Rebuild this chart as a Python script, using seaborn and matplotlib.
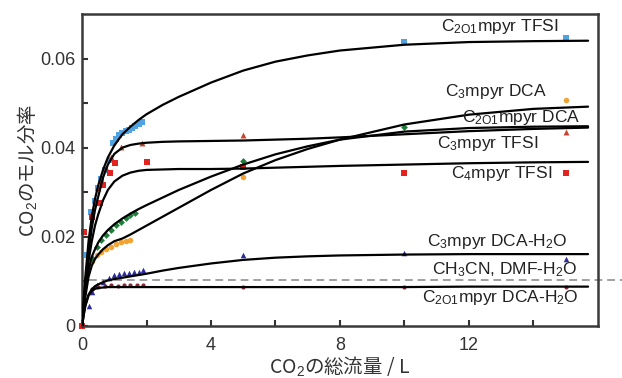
import pandas as pd
import matplotlib.pyplot as plt
import seaborn as sns

# fitted curves at these CO2 flow volumes (L)
curve_x = [0, 0.05, 0.1, 0.2, 0.3, 0.4, 0.5, 0.65, 0.8, 1.0, 1.25, 1.5, 1.75,
           2, 2.5, 3, 4, 5, 6, 7, 8, 10, 12, 14, 15.7]
c2o1_tfsi_curve = [0, 0.006, 0.011, 0.019, 0.0245, 0.0285, 0.0315, 0.035, 0.0378, 0.0405,
                   0.043, 0.0447, 0.0462, 0.0475, 0.0496, 0.0514, 0.0546, 0.0573, 0.0593,
                   0.0607, 0.0618, 0.0631, 0.0637, 0.0639, 0.064]
c3_tfsi_curve = [0, 0.005, 0.0095, 0.0165, 0.022, 0.026, 0.029, 0.0333, 0.0362, 0.0386,
                 0.04, 0.0406, 0.0409, 0.0411, 0.0413, 0.0414, 0.0415, 0.0416, 0.0418,
                 0.042, 0.0423, 0.043, 0.0437, 0.0442, 0.0445]
c4_tfsi_curve = [0, 0.004, 0.008, 0.0145, 0.019, 0.0225, 0.025, 0.0282, 0.0305, 0.0324,
                 0.0337, 0.0344, 0.0348, 0.035, 0.0351, 0.0352, 0.0352, 0.0353, 0.0355,
                 0.0357, 0.0359, 0.0362, 0.0365, 0.0367, 0.0368]
c2o1_dca_curve = [0, 0.004, 0.0075, 0.0125, 0.0155, 0.0172, 0.0187, 0.0203, 0.0215, 0.0228,
                  0.0241, 0.0252, 0.0262, 0.0271, 0.0288, 0.0305, 0.0335, 0.0362, 0.0385,
                  0.0403, 0.0418, 0.0436, 0.0444, 0.0447, 0.0448]
c3_dca_curve = [0, 0.0035, 0.0065, 0.011, 0.0135, 0.015, 0.016, 0.0172, 0.0181, 0.019,
                0.0196, 0.0205, 0.0215, 0.0225, 0.0245, 0.0265, 0.0305, 0.0342, 0.0372,
                0.0397, 0.0418, 0.0452, 0.0474, 0.0487, 0.0492]
c3_dca_h2o_curve = [0, 0.0025, 0.0045, 0.007, 0.0082, 0.0089, 0.0093, 0.0098, 0.0102, 0.0105,
                    0.0108, 0.0111, 0.0114, 0.0117, 0.0124, 0.013, 0.014, 0.0148, 0.0153,
                    0.0156, 0.0158, 0.016, 0.0161, 0.0161, 0.0161]
c2o1_dca_h2o_curve = [0, 0.0025, 0.0045, 0.0068, 0.0078, 0.0083, 0.0085, 0.0086, 0.0087, 0.0087,
                      0.0087, 0.0087, 0.0087, 0.0087, 0.0087, 0.0087, 0.0087, 0.0087, 0.0087,
                      0.0087, 0.0087, 0.0087, 0.0088, 0.0088, 0.0088]

# measured points
blue_x = [0.15, 0.28, 0.4, 0.5, 0.6, 0.71, 0.87, 0.96, 1.05, 1.15, 1.25, 1.35, 1.45, 1.55,
          1.65, 1.75, 1.85, 10, 15]
blue_y = [0.016, 0.0256, 0.028, 0.031, 0.033, 0.035, 0.0373, 0.0411, 0.042, 0.0428, 0.0433,
          0.0437, 0.044, 0.0444, 0.0448, 0.0452, 0.0457, 0.0636, 0.0645]
tri_red_x = [0.3, 0.5, 0.75, 0.9, 1.2, 1.85, 5, 15]
tri_red_y = [0.025, 0.031, 0.0355, 0.038, 0.0402, 0.0411, 0.0428, 0.0434]
sq_red_x = [0, 0.05, 0.3, 0.55, 0.65, 0.87, 1.02, 2.0, 5, 10, 15]
sq_red_y = [0.0, 0.021, 0.0245, 0.0276, 0.0317, 0.0344, 0.0366, 0.0368, 0.0357, 0.0342, 0.0342]
orange_x = [0.3, 0.45, 0.6, 0.75, 0.9, 1.05, 1.2, 1.35, 1.5, 5, 15]
orange_y = [0.0145, 0.0158, 0.0166, 0.0173, 0.0178, 0.0184, 0.0188, 0.0191, 0.0193, 0.0333, 0.0508]
green_x = [0.3, 0.45, 0.6, 0.75, 0.9, 1.05, 1.2, 1.35, 1.5, 1.65, 5, 10]
green_y = [0.0153, 0.0178, 0.0192, 0.0205, 0.0215, 0.0226, 0.0234, 0.0242, 0.0248, 0.0254,
           0.0371, 0.0447]
navy_x = [0.2, 0.3, 0.45, 0.65, 0.85, 1.0, 1.15, 1.3, 1.45, 1.6, 1.75, 1.9, 5, 10, 15]
navy_y = [0.0045, 0.0075, 0.0092, 0.0098, 0.0108, 0.0114, 0.0116, 0.0118, 0.0119, 0.012,
          0.0121, 0.0125, 0.016, 0.0164, 0.0151]
dred_x = [0.3, 0.5, 0.7, 0.9, 1.1, 1.3, 1.5, 1.7, 1.9, 5, 10, 15]
dred_y = [0.0082, 0.0088, 0.009, 0.0091, 0.009, 0.0091, 0.0092, 0.0091, 0.0092, 0.0088,
          0.0088, 0.0088]

solvent_level = 0.0103  # CH3CN, DMF-H2O

labels = [r"C$_{\mathrm{2O1}}$mpyr TFSI", r"C$_{\mathrm{3}}$mpyr DCA", r"C$_{\mathrm{2O1}}$mpyr DCA",
          r"C$_{\mathrm{3}}$mpyr TFSI", r"C$_{\mathrm{4}}$mpyr TFSI", r"C$_{\mathrm{3}}$mpyr DCA-H$_{\mathrm{2}}$O",
          r"CH$_{\mathrm{3}}$CN, DMF-H$_{\mathrm{2}}$O", r"C$_{\mathrm{2O1}}$mpyr DCA-H$_{\mathrm{2}}$O"]
label_x = [11.15, 11.25, 11.8, 11.0, 11.45, 10.7, 10.85, 10.55]
label_y = [0.0672, 0.0525, 0.0468, 0.041, 0.0342, 0.019, 0.0127, 0.0063]

sns.set_style("ticks")
plt.rcParams['font.family'] = ['Liberation Sans', 'Noto Sans CJK JP', 'DejaVu Sans']
plt.rcParams['mathtext.fontset'] = 'custom'
plt.rcParams['mathtext.rm'] = 'Liberation Sans'
plt.rcParams['mathtext.it'] = 'Liberation Sans:italic'

fig = plt.figure(figsize=(6.22, 3.78), dpi=100)
ax = fig.add_axes([0.132, 0.138, 0.829, 0.825])

ax.plot([0.2, 17], [solvent_level, solvent_level], ls=(0, (4, 2.5)), color='#a0a0a0',
        lw=1.4, clip_on=False, zorder=1)

for cy in [c2o1_tfsi_curve, c3_tfsi_curve, c4_tfsi_curve, c2o1_dca_curve, c3_dca_curve,
           c3_dca_h2o_curve, c2o1_dca_h2o_curve]:
    d = pd.DataFrame({'x': curve_x, 'y': cy})
    sns.lineplot(data=d, x='x', y='y', ax=ax, color='black', lw=1.6, sort=False,
                 estimator=None, zorder=3)

pts = [(blue_x, blue_y, 's', '#4fa3e3', 14),
       (tri_red_x, tri_red_y, '^', '#c9442c', 18),
       (sq_red_x, sq_red_y, 's', '#e3231f', 16),
       (orange_x, orange_y, 'o', '#f3a330', 16),
       (green_x, green_y, 'D', '#1f7d3a', 12),
       (navy_x, navy_y, '^', '#2b2b9c', 16),
       (dred_x, dred_y, 'o', '#8c2838', 9)]
for px, py, m, c, s in pts:
    d = pd.DataFrame({'x': px, 'y': py})
    sns.scatterplot(data=d, x='x', y='y', ax=ax, marker=m, color=c, s=s,
                    linewidth=0, zorder=2, clip_on=False)

for t, lx, ly in zip(labels, label_x, label_y):
    ax.text(lx, ly, t, fontsize=12.5, ha='left', va='center', color='#222222', zorder=4)

ax.set_xlim(0, 16)
ax.set_ylim(0, 0.07)
ax.set_xticks([0, 4, 8, 12])
ax.set_xticks([2, 6, 10, 14], minor=True)
ax.set_yticks([0, 0.02, 0.04, 0.06])
ax.set_yticklabels(['0', '0.02', '0.04', '0.06'])
ax.set_yticks([0.01, 0.03, 0.05], minor=True)
ax.tick_params(which='both', direction='in', length=4, width=1.5, color='#333333',
               labelsize=13, labelcolor='#333333')
ax.tick_params(axis='x', pad=8)
ax.tick_params(axis='y', pad=5)
for sp in ax.spines.values():
    sp.set_linewidth(1.8)
    sp.set_color('#3a3a3a')

ax.set_xlabel(r"CO$_{\mathrm{2}}$の総流量 / L", fontsize=14, family='Noto Sans CJK JP',
              color='#333333', labelpad=0)
ax.set_ylabel(r"CO$_{\mathrm{2}}$のモル分率", fontsize=14, family='Noto Sans CJK JP',
              color='#333333', labelpad=1)

fig.savefig('out.png', dpi=100)
